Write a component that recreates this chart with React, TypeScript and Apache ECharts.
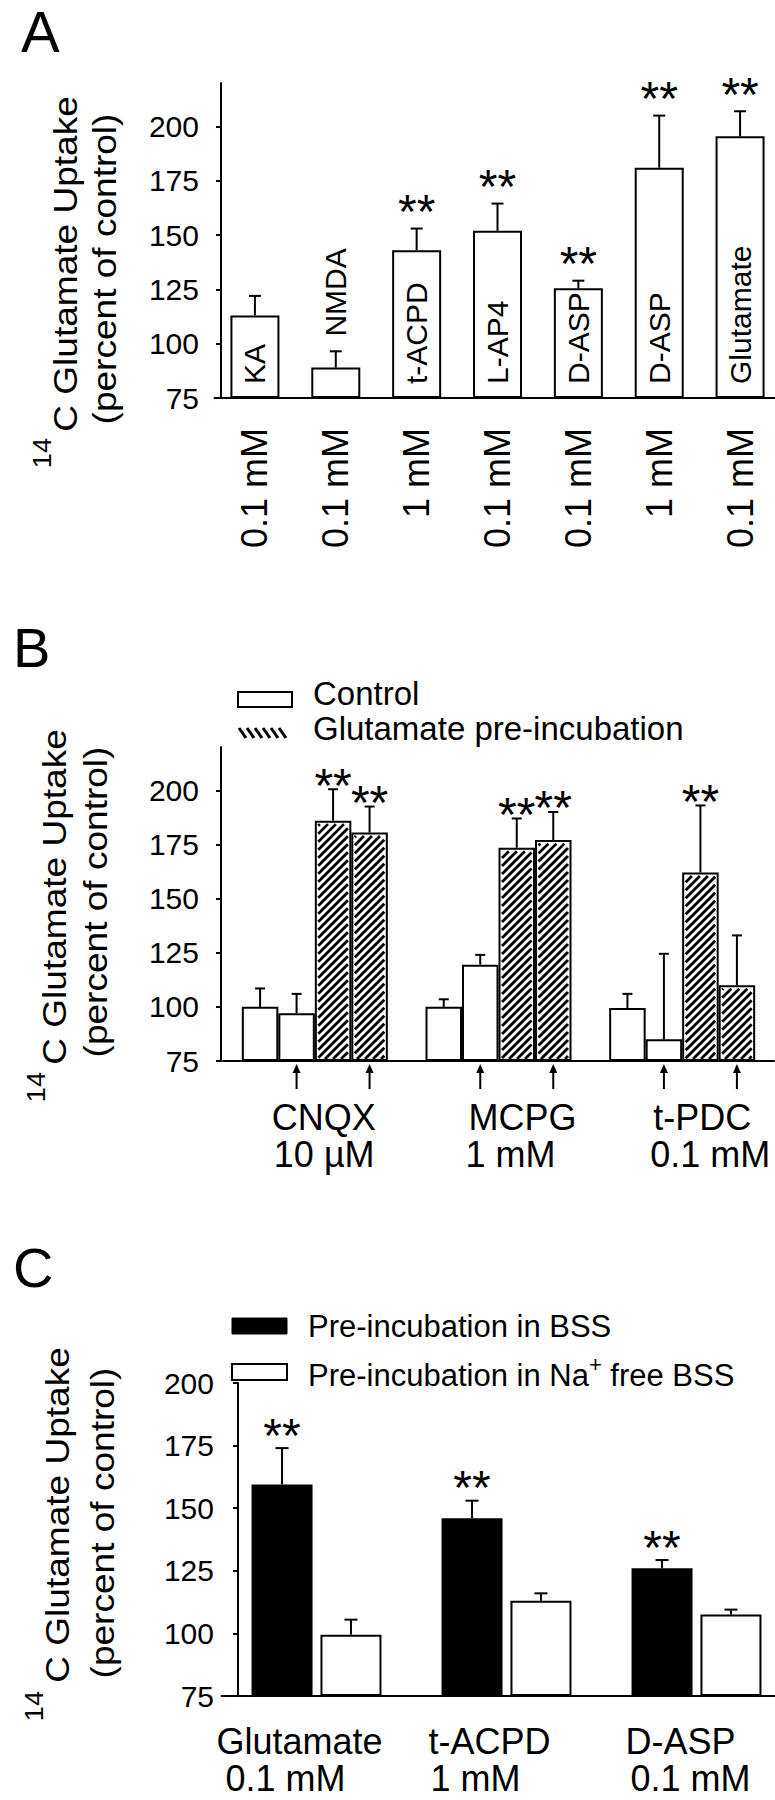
import React, { useEffect, useRef } from 'react';
import * as echarts from 'echarts';

const FONT = "'Liberation Sans', Arial, Helvetica, sans-serif";

// ---------- Panel A ----------
const drugsA = ['KA', 'NMDA', 't-ACPD', 'L-AP4', 'D-ASP', 'D-ASP', 'Glutamate'];
const concA = ['0.1 mM', '0.1 mM', '1 mM', '0.1 mM', '0.1 mM', '1 mM', '0.1 mM'];
const uptakeA = [113, 89, 143, 152, 125.5, 181, 195.5];
const errTopA = [122, 96.5, 153, 164.5, 129, 205, 207];
const sigA = ['', '', '**', '**', '**', '**', '**'];

// ---------- Panel B ----------
const drugsB = ['CNQX', 'MCPG', 't-PDC'];
const concB = ['10 µM', '1 mM', '0.1 mM'];
const controlB = [100, 100, 99.5];
const controlErrB = [108.5, 103.5, 106];
const controlDrugB = [97, 119.5, 85];
const controlDrugErrB = [106, 124, 124.5];
const glutB = [186, 173.5, 162];
const glutErrB = [200.5, 187, 193];
const glutDrugB = [180.5, 177, 110];
const glutDrugErrB = [192.5, 190, 133];
const sigGlutB = ['**', '**', '**'];
const sigGlutDrugB = ['**', '**', ''];
const legendB = ['Control', 'Glutamate pre-incubation'];

// ---------- Panel C ----------
const drugsC = ['Glutamate', 't-ACPD', 'D-ASP'];
const concC = ['0.1 mM', '1 mM', '0.1 mM'];
const bssC = [159.5, 146, 126];
const bssErrC = [174, 153, 129.3];
const naFreeC = [99.5, 113, 107.5];
const naFreeErrC = [105.5, 116, 109.5];
const sigBssC = ['**', '**', '**'];
const sigNaC = ['', '', ''];

const ticksY = [75, 100, 125, 150, 175, 200];
const yMin = 75;
const yMax = [220, 220, 200];

// ---------- layout ----------
const GRID = [
  { left: 214.5, top: 83, width: 566, height: 315 },
  { left: 223, top: 747, width: 551, height: 314 },
  { left: 221.5, top: 1383, width: 570, height: 313 },
];
const Y_OFFSET = [-6.5, 2, -16.5];
const LABEL_MARGIN = [22, 22, 24];
const WA = 49;
const WB = 36.5;
const WC = 61;
const GAPC = 0.13;

const slotX = (c: number, slot: number, n: number, w: number, gap: number) => {
  const total = n * w + (n - 1) * gap;
  return c - total / 2 + slot * (w + gap) + w / 2;
};

const BLACK = '#000';

function errorBars(axis: number, vals: number[], errs: number[], sigs: string[], slot: number, n: number, w: number, gap: number, cap: number, starLift: number) {
  return {
    type: 'custom',
    xAxisIndex: axis,
    yAxisIndex: axis,
    clip: false,
    silent: true,
    z: 5,
    data: vals.map((v, i) => [i, v, errs[i]]),
    renderItem: (params: any, api: any) => {
      const i = api.value(0);
      const p = api.coord([i, api.value(1)]);
      const e = api.coord([i, api.value(2)]);
      const cx = slotX(p[0], slot, n, w, gap);
      const children: any[] = [
        { type: 'line', shape: { x1: cx, y1: p[1], x2: cx, y2: e[1] }, style: { stroke: BLACK, lineWidth: 2 } },
        { type: 'line', shape: { x1: cx - cap / 2, y1: e[1], x2: cx + cap / 2, y2: e[1] }, style: { stroke: BLACK, lineWidth: 2 } },
      ];
      const s = sigs[params.dataIndex];
      if (s) {
        children.push({
          type: 'text',
          x: cx,
          y: e[1] - starLift + 11,
          style: { text: s, fontSize: 48, fontFamily: FONT, fill: BLACK, align: 'center', verticalAlign: 'middle' },
        });
      }
      return { type: 'group', children };
    },
  };
}

function hatch(axis: number, vals: number[], slot: number, n: number, w: number, gap: number) {
  return {
    type: 'custom',
    xAxisIndex: axis,
    yAxisIndex: axis,
    clip: false,
    silent: true,
    z: 4,
    data: vals.map((v, i) => [i, v]),
    renderItem: (params: any, api: any) => {
      const i = api.value(0);
      const p = api.coord([i, api.value(1)]);
      const b = api.coord([i, yMin]);
      const cx = slotX(p[0], slot, n, w, gap);
      const x0 = cx - w / 2 + 3.5;
      const x1 = cx + w / 2 - 3.5;
      const y0 = p[1] + 3.5;
      const y1 = b[1] - 2;
      const step = 8;
      const children: any[] = [];
      for (let k = Math.ceil((x0 + y0) / step) * step; k < x1 + y1; k += step) {
        const xa = Math.max(x0, k - y1);
        const xb = Math.min(x1, k - y0);
        if (xb > xa) {
          children.push({ type: 'line', shape: { x1: xa, y1: k - xa, x2: xb, y2: k - xb }, style: { stroke: BLACK, lineWidth: 2.8 } });
        }
      }
      return { type: 'group', children };
    },
  };
}

function catLabels(axis: number, names: string[], concs: string[], dxName: number[], dxConc: number[], dyName: number, dyConc: number, fontSize: number) {
  return {
    type: 'custom',
    xAxisIndex: axis,
    yAxisIndex: axis,
    clip: false,
    silent: true,
    data: names.map((_, i) => [i, yMin]),
    renderItem: (params: any, api: any) => {
      const i = api.value(0);
      const p = api.coord([i, yMin]);
      const st = { fontSize, fontFamily: FONT, fill: BLACK, align: 'left', verticalAlign: 'middle' };
      return {
        type: 'group',
        children: [
          { type: 'text', x: p[0] + dxName[i], y: p[1] + dyName, style: { ...st, text: names[i] } },
          { type: 'text', x: p[0] + dxConc[i], y: p[1] + dyConc, style: { ...st, text: concs[i] } },
        ],
      };
    },
  };
}

function arrowsB() {
  return {
    type: 'custom',
    xAxisIndex: 1,
    yAxisIndex: 1,
    clip: false,
    silent: true,
    data: drugsB.map((_, i) => [i, yMin]),
    renderItem: (params: any, api: any) => {
      const p = api.coord([api.value(0), yMin]);
      const children: any[] = [];
      [1, 3].forEach((slot) => {
        const cx = slotX(p[0], slot, 4, WB, 0);
        children.push({ type: 'line', shape: { x1: cx, y1: p[1] + 28, x2: cx, y2: p[1] + 10 }, style: { stroke: BLACK, lineWidth: 2 } });
        children.push({ type: 'polygon', shape: { points: [[cx, p[1] + 3], [cx - 4, p[1] + 12], [cx + 4, p[1] + 12]] }, style: { fill: BLACK } });
      });
      return { type: 'group', children };
    },
  };
}

function rotText(text: string, x: number, y: number, fontSize: number, scaleX = 1.09) {
  return {
    type: 'text',
    x,
    y,
    rotation: Math.PI / 2,
    scaleX,
    style: { text, fontSize, fontFamily: FONT, fill: BLACK, align: 'center', verticalAlign: 'middle' },
  };
}

function hText(text: string, x: number, y: number, fontSize: number) {
  return { type: 'text', x, y, style: { text, fontSize, fontFamily: FONT, fill: BLACK, align: 'left', verticalAlign: 'middle' } };
}

function axisTitle(x1: number, y1: number, x2: number, y2: number, xs: number, ys: number) {
  return [
    rotText('C Glutamate Uptake', x1, y1, 34),
    rotText('(percent of control)', x2, y2, 34),
    rotText('14', xs, ys, 25),
  ];
}

function hatchLegend(x0: number, y0: number, w: number, h: number) {
  const items: any[] = [];
  for (let x = x0; x + 7 <= x0 + w + 1; x += 8) {
    items.push({ type: 'line', shape: { x1: x, y1: y0, x2: x + 7, y2: y0 + h }, style: { stroke: BLACK, lineWidth: 3 } });
  }
  return items;
}

function buildOption() {
  const xAxes = [0, 1, 2].map((g) => ({
    type: 'category',
    gridIndex: g,
    data: (g === 0 ? drugsA : g === 1 ? drugsB : drugsC).map((_, i) => String(i)),
    axisLine: { show: true, onZero: false, lineStyle: { color: BLACK, width: 2 } },
    axisTick: { show: false },
    splitLine: { show: false },
    axisLabel:
      g === 0
        ? {
            show: true,
            interval: 0,
            rotate: 90,
            margin: 30,
            fontSize: 36,
            fontFamily: FONT,
            color: BLACK,
            formatter: (v: string) => concA[Number(v)],
          }
        : { show: false },
  }));
  const yAxes = [0, 1, 2].map((g) => ({
    type: 'value',
    gridIndex: g,
    min: yMin,
    max: yMax[g],
    interval: 25,
    startValue: yMin,
    offset: Y_OFFSET[g],
    axisLine: { show: true, lineStyle: { color: BLACK, width: 2 } },
    axisTick: { show: true, length: 5, customValues: ticksY, lineStyle: { color: BLACK, width: 2 } },
    axisLabel: { show: true, customValues: ticksY, fontSize: 30, fontFamily: FONT, color: BLACK, margin: LABEL_MARGIN[g] },
    splitLine: { show: false },
  }));

  const whiteBar = { color: '#fff', borderColor: BLACK, borderWidth: 2 };

  const series: any[] = [
    // Panel A
    {
      type: 'bar',
      xAxisIndex: 0,
      yAxisIndex: 0,
      barWidth: WA,
      silent: true,
      itemStyle: whiteBar,
      data: uptakeA.map((v, i) => (i === 1 ? { value: v, label: { position: 'top', distance: 31 } } : v)),
      label: {
        show: true,
        position: 'insideBottom',
        distance: 14,
        rotate: 90,
        align: 'left',
        verticalAlign: 'middle',
        fontSize: 30,
        fontFamily: FONT,
        color: BLACK,
        formatter: (p: any) => drugsA[p.dataIndex],
      },
    },
    errorBars(0, uptakeA, errTopA, sigA, 0, 1, WA, 0, 12, 28),
    // Panel B
    ...[controlB, controlDrugB, glutB, glutDrugB].map((d) => ({
      type: 'bar',
      xAxisIndex: 1,
      yAxisIndex: 1,
      barWidth: WB,
      barGap: '0%',
      silent: true,
      itemStyle: whiteBar,
      data: d,
    })),
    hatch(1, glutB, 2, 4, WB, 0),
    hatch(1, glutDrugB, 3, 4, WB, 0),
    errorBars(1, controlB, controlErrB, ['', '', ''], 0, 4, WB, 0, 10, 15),
    errorBars(1, controlDrugB, controlDrugErrB, ['', '', ''], 1, 4, WB, 0, 10, 15),
    errorBars(1, glutB, glutErrB, sigGlutB, 2, 4, WB, 0, 10, 15),
    errorBars(1, glutDrugB, glutDrugErrB, sigGlutDrugB, 3, 4, WB, 0, 10, 15),
    arrowsB(),
    catLabels(1, drugsB, concB, [-43, -30, -29], [-41, -33, -32], 56, 93, 36),
    // Panel C
    {
      type: 'bar',
      xAxisIndex: 2,
      yAxisIndex: 2,
      barWidth: WC,
      barGap: GAPC * 100 + '%',
      silent: true,
      itemStyle: { color: BLACK, borderColor: BLACK, borderWidth: 2 },
      data: bssC,
    },
    {
      type: 'bar',
      xAxisIndex: 2,
      yAxisIndex: 2,
      barWidth: WC,
      barGap: GAPC * 100 + '%',
      silent: true,
      itemStyle: whiteBar,
      data: naFreeC,
    },
    errorBars(2, bssC, bssErrC, sigBssC, 0, 2, WC, WC * GAPC, 13, 24),
    errorBars(2, naFreeC, naFreeErrC, sigNaC, 1, 2, WC, WC * GAPC, 13, 24),
    catLabels(2, drugsC, concC, [-100, -78, -71], [-91, -76, -66], 45, 82, 36),
  ];

  const graphic: any[] = [
    hText('A', 21, 31, 58),
    hText('B', 13, 647, 56),
    hText('C', 13, 1267, 56),
    ...axisTitle(66, 264, 105, 269, 42, 453),
    ...axisTitle(55, 897, 96, 902, 36, 1087),
    ...axisTitle(58, 1515, 103, 1523, 34, 1706),
    // Legend B
    { type: 'rect', shape: { x: 238, y: 692, width: 54, height: 15 }, style: { fill: '#fff', stroke: BLACK, lineWidth: 2 } },
    hText(legendB[0], 313, 693, 33),
    ...hatchLegend(239, 728, 52, 10),
    hText(legendB[1], 313, 728, 33),
    // Legend C
    { type: 'rect', shape: { x: 232, y: 1318, width: 55, height: 16 }, style: { fill: BLACK, stroke: BLACK, lineWidth: 1 } },
    hText('Pre-incubation in BSS', 308, 1326, 31),
    { type: 'rect', shape: { x: 232, y: 1364, width: 55, height: 16 }, style: { fill: '#fff', stroke: BLACK, lineWidth: 2 } },
    {
      type: 'text',
      x: 308,
      y: 1375,
      style: {
        text: '{m|Pre-incubation in Na}{s|+}{m| free BSS}',
        fill: BLACK,
        align: 'left',
        verticalAlign: 'middle',
        rich: {
          m: { fontSize: 31, fontFamily: FONT, lineHeight: 44, fill: BLACK },
          s: { fontSize: 22, fontFamily: FONT, lineHeight: 20, verticalAlign: 'top', fill: BLACK },
        },
      },
    },
  ];

  return {
    animation: false,
    backgroundColor: '#fff',
    grid: GRID.map((g) => ({ ...g, containLabel: false, outerBoundsMode: 'none' })),
    xAxis: xAxes,
    yAxis: yAxes,
    series,
    graphic,
  };
}

export default function App() {
  const ref = useRef<HTMLDivElement>(null);
  useEffect(() => {
    document.body.style.margin = '0';
    if (!ref.current) return;
    const chart = echarts.init(ref.current, null, { renderer: 'svg' });
    chart.setOption(buildOption() as any);
    return () => chart.dispose();
  }, []);
  return <div ref={ref} style={{ width: 775, height: 1800 }} />;
}
